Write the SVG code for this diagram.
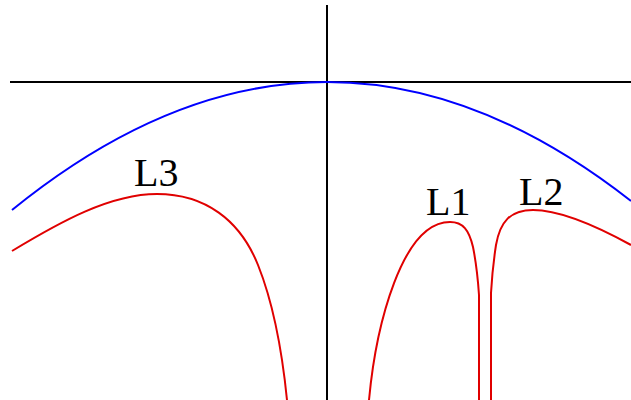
<svg xmlns="http://www.w3.org/2000/svg" width="631" height="400" viewBox="0 0 631 400">
<style>
.axis{stroke:#000;stroke-width:2;fill:none}
.blue{stroke:#0000ff;stroke-width:2;fill:none}
.red{stroke:#e00000;stroke-width:2;fill:none}
.lbl{font-family:"Liberation Serif","Times New Roman",serif;font-size:40px;fill:#000}
</style>
<rect width="631" height="400" fill="#fff"/>
<g id="axes">
<line class="axis" x1="10" y1="82" x2="631" y2="82"/>
<line class="axis" x1="327" y1="5" x2="327" y2="400"/>
</g>
<g id="blue-curve">
<path class="blue" d="M12,210 Q321.5,-41.5 631,201"/>
</g>
<g id="L3">
<path class="red" d="M12,251 C60,222 110,194 157,194 C205,194 240,220 258,265 C276,310 283,360 287,400"/>
<text class="lbl" x="134" y="186">L3</text>
</g>
<g id="L1">
<path class="red" d="M369,400 C376,325 402,222 450,222 C463,222 469,230 473,247 C476,262 478,280 479,295 L479,400"/>
<text class="lbl" x="426" y="215">L1</text>
</g>
<g id="L2">
<path class="red" d="M491,400 L491,293 C492,275 494,258 496,245 C500,222 510,210 533,210 C560,210 600,228 631,245"/>
<text class="lbl" x="519" y="205">L2</text>
</g>
</svg>
